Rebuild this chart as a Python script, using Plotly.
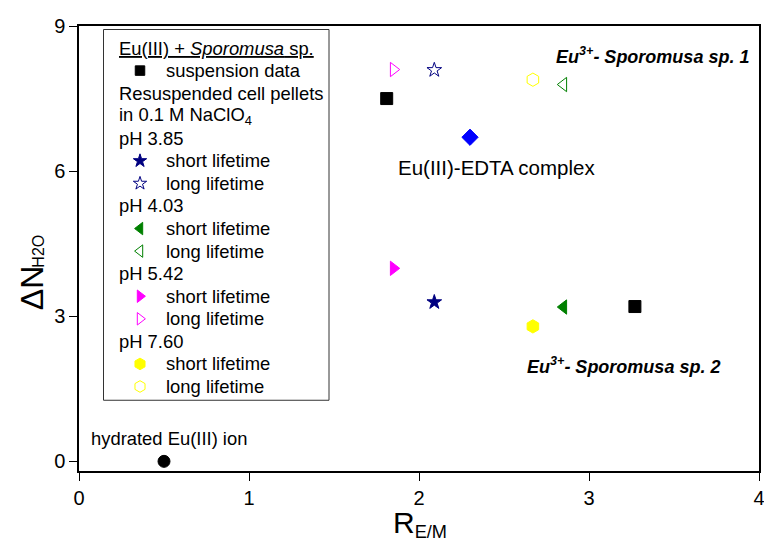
import plotly.graph_objects as go

# ---------------- data ----------------
hyd_x = [0.50]; hyd_y = [0.0]
susp_x = [1.81, 3.27]; susp_y = [7.50, 3.20]
edta_x = [2.30]; edta_y = [6.70]
ph385_short_x = [2.09]; ph385_short_y = [3.29]
ph385_long_x = [2.09]; ph385_long_y = [8.09]
ph403_short_x = [2.85]; ph403_short_y = [3.19]
ph403_long_x = [2.85]; ph403_long_y = [7.79]
ph542_short_x = [1.85]; ph542_short_y = [3.99]
ph542_long_x = [1.85]; ph542_long_y = [8.10]
ph760_short_x = [2.67]; ph760_short_y = [2.79]
ph760_long_x = [2.67]; ph760_long_y = [7.89]

x_ticks = [0, 1, 2, 3, 4]
y_ticks = [0, 3, 6, 9]

FONT = "Liberation Sans, Arial, sans-serif"

# ---------------- geometry helpers (pixel -> data / paper) ----------------
W, H = 764, 547
L, R, T = 79, 759, 26
B = 470.7
XR = [0, 4]
YR = [-0.2, 9]


def px_paper(px):
    return (px - L) / (R - L)


def py_paper(py):
    return (B - py) / (B - T)


def dx(px):
    return XR[0] + px_paper(px) * (XR[1] - XR[0])


def dy(py):
    return YR[0] + py_paper(py) * (YR[1] - YR[0])


fig = go.Figure()


def add(xs, ys, symbol, color, size, lw=1.0):
    fig.add_trace(go.Scatter(
        x=xs, y=ys, mode="markers", showlegend=False, cliponaxis=False,
        marker=dict(symbol=symbol, color=color, size=size, opacity=1,
                    line=dict(color=color, width=lw)),
        hoverinfo="skip"))


NAVY, GREEN, MAG, YEL, BLUE = "#000080", "#008000", "#FF00FF", "#FFFF00", "#0000FF"

add(hyd_x, hyd_y, "circle", "black", 12)
add(susp_x, susp_y, "square", "black", 12)
add(edta_x, edta_y, "diamond", BLUE, 12.5)
add(ph385_short_x, ph385_short_y, "star", NAVY, 11)
add(ph385_long_x, ph385_long_y, "star-open", NAVY, 11)
add(ph403_short_x, ph403_short_y, "triangle-left", GREEN, 12.4)
add(ph403_long_x, ph403_long_y, "triangle-left-open", GREEN, 12.4)
add(ph542_short_x, ph542_short_y, "triangle-right", MAG, 12.4)
add(ph542_long_x, ph542_long_y, "triangle-right-open", MAG, 12.4)
add(ph760_short_x, ph760_short_y, "hexagon", YEL, 13.3)
add(ph760_long_x, ph760_long_y, "hexagon-open", YEL, 13.3)

# ---------------- hand-made legend ----------------
legend_rows = [
    ("<u>Eu(III) + <i>Sporomusa</i> sp.</u>", None, None),
    ("suspension data", "square", "black"),
    ("Resuspended cell pellets", None, None),
    ("in 0.1 M NaClO<sub>4</sub>", None, None),
    ("pH 3.85", None, None),
    ("short lifetime", "star", NAVY),
    ("long lifetime", "star-open", NAVY),
    ("pH 4.03", None, None),
    ("short lifetime", "triangle-left", GREEN),
    ("long lifetime", "triangle-left-open", GREEN),
    ("pH 5.42", None, None),
    ("short lifetime", "triangle-right", MAG),
    ("long lifetime", "triangle-right-open", MAG),
    ("pH 7.60", None, None),
    ("short lifetime", "hexagon", YEL),
    ("long lifetime", "hexagon-open", YEL),
]
KEY_SIZE = {"square": 9.5, "star": 10, "star-open": 10,
            "triangle-left": 10.8, "triangle-left-open": 10.8,
            "triangle-right": 10.8, "triangle-right-open": 10.8,
            "hexagon": 11.6, "hexagon-open": 11.6}
ROW0, ROWSTEP = 48, 22.55
HEAD_X, ITEM_X, KEY_X = 117, 164, 140

fig.add_shape(type="rect", xref="x", yref="y",
              x0=dx(103.5), x1=dx(329), y0=dy(29.5), y1=dy(400),
              line=dict(color="#333333", width=1), fillcolor="white", layer="below")

key_x, key_y, key_sym, key_col, key_size = [], [], [], [], []
for i, (txt, sym, col) in enumerate(legend_rows):
    yc = ROW0 + i * ROWSTEP
    fig.add_annotation(x=px_paper(ITEM_X if sym else HEAD_X), y=py_paper(yc),
                       xref="paper", yref="paper",
                       text=txt, showarrow=False, xanchor="left", yanchor="middle",
                       font=dict(family=FONT, size=18.4, color="black"))
    if sym:
        key_x.append(dx(KEY_X)); key_y.append(dy(yc))
        key_sym.append(sym); key_col.append(col); key_size.append(KEY_SIZE[sym])

fig.add_trace(go.Scatter(
    x=key_x, y=key_y, mode="markers", showlegend=False, cliponaxis=False,
    marker=dict(symbol=key_sym, color=key_col, size=key_size, opacity=1,
                line=dict(color=key_col, width=1)),
    hoverinfo="skip"))


# ---------------- text labels ----------------
def label(px, py, text, size, anchor="center", angle=0):
    fig.add_annotation(x=px_paper(px), y=py_paper(py), xref="paper", yref="paper",
                       text=text, showarrow=False, xanchor=anchor, yanchor="middle",
                       textangle=angle,
                       font=dict(family=FONT, size=size, color="black"))


label(751, 55, "<b><i>Eu<sup>3+</sup>- Sporomusa sp. 1</i></b>", 18, "right")
label(722, 365, "<b><i>Eu<sup>3+</sup>- Sporomusa sp. 2</i></b>", 18, "right")
label(496, 167, "Eu(III)-EDTA complex", 20.5)
label(89, 438, "hydrated Eu(III) ion", 18.4, "left")

# axis titles
label(419.5, 524, "<span style='font-size:30px'>R</span><sub>E/M</sub>", 26)
label(32, 288, "ΔN", 32, angle=-90)
label(39, 251.5, "H2O", 16, angle=-90)

# ---------------- layout ----------------
axis_common = dict(showgrid=False, zeroline=False, showline=True, linecolor="black",
                   linewidth=1.5, mirror=True, ticks="outside", ticklen=8,
                   tickcolor="black", tickwidth=1, automargin=False,
                   ticklabeloverflow="allow",
                   tickfont=dict(family=FONT, size=20, color="black"))

fig.update_layout(
    width=W, height=H,
    margin=dict(l=L, r=W - R, t=T, b=H - B, pad=0, autoexpand=False),
    paper_bgcolor="white", plot_bgcolor="white",
    xaxis=dict(range=XR, tickvals=x_ticks, ticktext=[str(v) for v in x_ticks], **axis_common),
    yaxis=dict(range=YR, tickvals=y_ticks, ticktext=[str(v) for v in y_ticks], **axis_common),
    font=dict(family=FONT, color="black"),
)

fig.write_html("out.html")
